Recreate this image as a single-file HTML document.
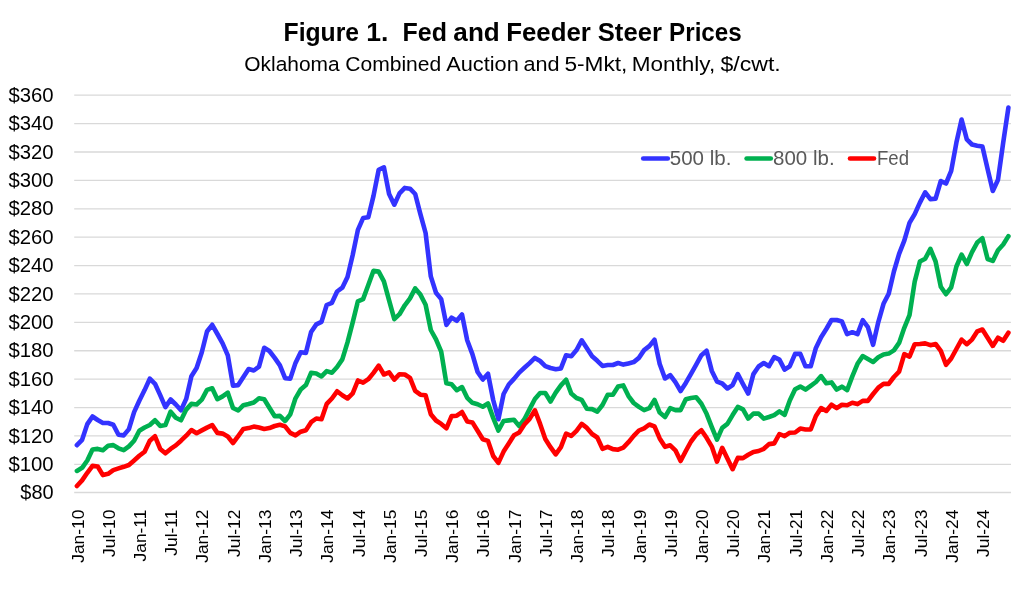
<!DOCTYPE html>
<html lang="en">
<head>
<meta charset="utf-8">
<title>Figure 1. Fed and Feeder Steer Prices</title>
<style>
  html, body { margin: 0; padding: 0; background: #ffffff; }
  body { width: 1024px; height: 596px; overflow: hidden; font-family: "Liberation Sans", sans-serif; }
  svg { display: block; }
  .grid line { stroke: #d9d9d9; stroke-width: 1.3; shape-rendering: auto; }
  .series polyline { fill: none; stroke-width: 4.6; stroke-linejoin: round; stroke-linecap: round; }
  .ylab text { font-size: 19.5px; fill: #000; text-anchor: end; }
  .xlab text { font-size: 17.4px; fill: #000; text-anchor: end; }
  .title { font-size: 25.2px; font-weight: bold; fill: #000; }
  .subtitle { font-size: 19.9px; fill: #000; }
  .legend text { font-size: 19.3px; fill: #595959; }
  .legend line { stroke-width: 4.6; stroke-linecap: round; }
</style>
</head>
<body>
<svg width="1024" height="596" viewBox="0 0 1024 596" font-family="'Liberation Sans', sans-serif">
  <rect x="0" y="0" width="1024" height="596" fill="#ffffff"/>
  <text class="title" y="40.8"><tspan x="283.54" textLength="75.57" lengthAdjust="spacingAndGlyphs">Figure</tspan> <tspan x="366.21" textLength="22.14" lengthAdjust="spacingAndGlyphs">1.</tspan> <tspan x="402.53" textLength="44.35" lengthAdjust="spacingAndGlyphs">Fed</tspan> <tspan x="453.38" textLength="46.37" lengthAdjust="spacingAndGlyphs">and</tspan> <tspan x="506.17" textLength="84.68" lengthAdjust="spacingAndGlyphs">Feeder</tspan> <tspan x="597.78" textLength="64.09" lengthAdjust="spacingAndGlyphs">Steer</tspan> <tspan x="669.08" textLength="72.68" lengthAdjust="spacingAndGlyphs">Prices</tspan></text>
  <text class="subtitle" y="70.8"><tspan x="244.27" textLength="95.33" lengthAdjust="spacingAndGlyphs">Oklahoma</tspan> <tspan x="345.26" textLength="95.95" lengthAdjust="spacingAndGlyphs">Combined</tspan> <tspan x="446.22" textLength="72.55" lengthAdjust="spacingAndGlyphs">Auction</tspan> <tspan x="523.52" textLength="36.07" lengthAdjust="spacingAndGlyphs">and</tspan> <tspan x="564.40" textLength="63.04" lengthAdjust="spacingAndGlyphs">5-Mkt,</tspan> <tspan x="631.66" textLength="83.50" lengthAdjust="spacingAndGlyphs">Monthly,</tspan> <tspan x="720.43" textLength="60.31" lengthAdjust="spacingAndGlyphs">$/cwt.</tspan></text>
  <g class="grid">
    <line x1="74.2" x2="1011" y1="492.50" y2="492.50"/><line x1="74.2" x2="1011" y1="464.31" y2="464.31"/><line x1="74.2" x2="1011" y1="435.92" y2="435.92"/><line x1="74.2" x2="1011" y1="407.53" y2="407.53"/><line x1="74.2" x2="1011" y1="379.14" y2="379.14"/><line x1="74.2" x2="1011" y1="350.75" y2="350.75"/><line x1="74.2" x2="1011" y1="322.36" y2="322.36"/><line x1="74.2" x2="1011" y1="293.97" y2="293.97"/><line x1="74.2" x2="1011" y1="265.58" y2="265.58"/><line x1="74.2" x2="1011" y1="237.19" y2="237.19"/><line x1="74.2" x2="1011" y1="208.80" y2="208.80"/><line x1="74.2" x2="1011" y1="180.41" y2="180.41"/><line x1="74.2" x2="1011" y1="152.02" y2="152.02"/><line x1="74.2" x2="1011" y1="123.63" y2="123.63"/><line x1="74.2" x2="1011" y1="95.04" y2="95.04"/>
  </g>
  <g class="ylab">
    <text x="53.6" y="499.1" textLength="33.3" lengthAdjust="spacingAndGlyphs">$80</text><text x="53.6" y="470.9" textLength="45.2" lengthAdjust="spacingAndGlyphs">$100</text><text x="53.6" y="442.5" textLength="45.2" lengthAdjust="spacingAndGlyphs">$120</text><text x="53.6" y="414.1" textLength="45.2" lengthAdjust="spacingAndGlyphs">$140</text><text x="53.6" y="385.7" textLength="45.2" lengthAdjust="spacingAndGlyphs">$160</text><text x="53.6" y="357.4" textLength="45.2" lengthAdjust="spacingAndGlyphs">$180</text><text x="53.6" y="329.0" textLength="45.2" lengthAdjust="spacingAndGlyphs">$200</text><text x="53.6" y="300.6" textLength="45.2" lengthAdjust="spacingAndGlyphs">$220</text><text x="53.6" y="272.2" textLength="45.2" lengthAdjust="spacingAndGlyphs">$240</text><text x="53.6" y="243.8" textLength="45.2" lengthAdjust="spacingAndGlyphs">$260</text><text x="53.6" y="215.4" textLength="45.2" lengthAdjust="spacingAndGlyphs">$280</text><text x="53.6" y="187.0" textLength="45.2" lengthAdjust="spacingAndGlyphs">$300</text><text x="53.6" y="158.6" textLength="45.2" lengthAdjust="spacingAndGlyphs">$320</text><text x="53.6" y="130.2" textLength="45.2" lengthAdjust="spacingAndGlyphs">$340</text><text x="53.6" y="101.6" textLength="45.2" lengthAdjust="spacingAndGlyphs">$360</text>
  </g>
  <g class="xlab">
    <text transform="translate(83.5,509.6) rotate(-90)">Jan-10</text><text transform="translate(114.7,509.6) rotate(-90)">Jul-10</text><text transform="translate(145.9,509.6) rotate(-90)">Jan-11</text><text transform="translate(177.2,509.6) rotate(-90)">Jul-11</text><text transform="translate(208.4,509.6) rotate(-90)">Jan-12</text><text transform="translate(239.6,509.6) rotate(-90)">Jul-12</text><text transform="translate(270.8,509.6) rotate(-90)">Jan-13</text><text transform="translate(302.1,509.6) rotate(-90)">Jul-13</text><text transform="translate(333.3,509.6) rotate(-90)">Jan-14</text><text transform="translate(364.5,509.6) rotate(-90)">Jul-14</text><text transform="translate(395.7,509.6) rotate(-90)">Jan-15</text><text transform="translate(427.0,509.6) rotate(-90)">Jul-15</text><text transform="translate(458.2,509.6) rotate(-90)">Jan-16</text><text transform="translate(489.4,509.6) rotate(-90)">Jul-16</text><text transform="translate(520.6,509.6) rotate(-90)">Jan-17</text><text transform="translate(551.9,509.6) rotate(-90)">Jul-17</text><text transform="translate(583.1,509.6) rotate(-90)">Jan-18</text><text transform="translate(614.3,509.6) rotate(-90)">Jul-18</text><text transform="translate(645.5,509.6) rotate(-90)">Jan-19</text><text transform="translate(676.8,509.6) rotate(-90)">Jul-19</text><text transform="translate(708.0,509.6) rotate(-90)">Jan-20</text><text transform="translate(739.2,509.6) rotate(-90)">Jul-20</text><text transform="translate(770.4,509.6) rotate(-90)">Jan-21</text><text transform="translate(801.7,509.6) rotate(-90)">Jul-21</text><text transform="translate(832.9,509.6) rotate(-90)">Jan-22</text><text transform="translate(864.1,509.6) rotate(-90)">Jul-22</text><text transform="translate(895.3,509.6) rotate(-90)">Jan-23</text><text transform="translate(926.5,509.6) rotate(-90)">Jul-23</text><text transform="translate(957.8,509.6) rotate(-90)">Jan-24</text><text transform="translate(989.0,509.6) rotate(-90)">Jul-24</text>
  </g>
  <g class="series">
    <polyline stroke="#3333ff" points="76.9,445.2 82.1,439.8 87.3,424.1 92.5,416.5 97.7,420.0 102.9,423.0 108.1,423.0 113.3,424.7 118.5,434.8 123.7,435.4 128.9,429.1 134.1,412.1 139.3,400.8 144.6,390.1 149.8,378.7 155.0,383.8 160.2,395.1 165.4,407.1 170.6,399.5 175.8,404.5 181.0,410.2 186.2,398.9 191.4,376.2 196.6,368.0 201.8,352.2 207.0,331.5 212.2,324.8 217.4,334.0 222.6,343.4 227.8,355.4 233.0,385.7 238.2,385.1 243.4,376.9 248.6,369.0 253.8,370.5 259.0,366.7 264.2,347.8 269.4,351.0 274.7,357.9 279.9,365.4 285.1,378.2 290.3,378.6 295.5,362.9 300.7,352.2 305.9,352.9 311.1,332.0 316.3,324.4 321.5,321.9 326.7,305.0 331.9,302.8 337.1,291.5 342.3,287.7 347.5,277.0 352.7,255.0 357.9,229.9 363.1,218.1 368.3,217.3 373.5,195.9 378.7,169.8 383.9,167.3 389.1,194.0 394.3,204.7 399.5,193.4 404.8,187.9 410.0,188.7 415.2,194.0 420.4,214.1 425.6,233.0 430.8,276.4 436.0,292.8 441.2,299.1 446.4,324.9 451.6,317.6 456.8,320.8 462.0,314.5 467.2,340.3 472.4,354.1 477.6,372.0 482.8,379.5 488.0,373.8 493.2,400.0 498.4,419.2 503.6,394.0 508.8,384.5 514.0,378.9 519.2,372.6 524.4,367.8 529.6,363.1 534.9,357.9 540.1,361.0 545.3,366.1 550.5,368.0 555.7,369.2 560.9,368.4 566.1,355.2 571.3,356.2 576.5,350.1 581.7,340.3 586.9,348.3 592.1,356.2 597.3,360.8 602.5,365.9 607.7,365.0 612.9,365.0 618.1,363.0 623.3,364.6 628.5,363.4 633.7,362.1 638.9,357.9 644.1,350.1 649.3,346.1 654.5,339.8 659.7,364.0 665.0,378.5 670.2,375.1 675.4,382.2 680.6,391.0 685.8,382.9 691.0,373.8 696.2,364.6 701.4,355.2 706.6,350.8 711.8,370.9 717.0,381.6 722.2,383.5 727.4,388.5 732.6,385.1 737.8,374.1 743.0,384.1 748.2,393.6 753.4,374.1 758.6,366.5 763.8,363.0 769.0,366.2 774.2,357.1 779.4,359.6 784.6,369.6 789.8,366.2 795.1,353.9 800.3,353.9 805.5,366.3 810.7,366.3 815.9,347.9 821.1,337.2 826.3,329.0 831.5,320.0 836.7,320.0 841.9,321.5 847.1,334.1 852.3,332.2 857.5,334.1 862.7,320.2 867.9,327.1 873.1,344.8 878.3,322.1 883.5,303.8 888.7,293.8 893.9,271.5 899.1,253.9 904.3,240.7 909.5,222.9 914.7,214.1 919.9,202.6 925.2,192.3 930.4,199.2 935.6,198.6 940.8,181.0 946.0,183.5 951.2,170.9 956.4,142.6 961.6,119.5 966.8,139.4 972.0,144.5 977.2,145.7 982.4,146.6 987.6,169.0 992.8,191.0 998.0,179.7 1003.2,142.6 1008.4,107.6"/>
    <polyline stroke="#00b050" points="76.9,470.9 82.1,467.8 87.3,460.5 92.5,449.5 97.7,448.9 102.9,450.2 108.1,445.8 113.3,445.1 118.5,448.3 123.7,450.2 128.9,446.4 134.1,440.7 139.3,430.7 144.6,427.5 149.8,425.0 155.0,420.3 160.2,425.9 165.4,425.1 170.6,411.7 175.8,417.8 181.0,420.3 186.2,409.6 191.4,403.9 196.6,404.5 201.8,399.6 207.0,389.9 212.2,388.3 217.4,399.2 222.6,396.4 227.8,392.7 233.0,408.0 238.2,410.5 243.4,405.2 248.6,404.0 253.8,402.5 259.0,398.3 264.2,399.2 269.4,407.8 274.7,416.3 279.9,415.9 285.1,421.0 290.3,414.3 295.5,398.3 300.7,389.5 305.9,385.1 311.1,372.8 316.3,373.5 321.5,376.4 326.7,371.1 331.9,372.7 337.1,367.0 342.3,359.4 347.5,342.4 352.7,322.3 357.9,301.3 363.1,299.1 368.3,285.0 373.5,270.7 378.7,271.6 383.9,281.4 389.1,300.3 394.3,319.2 399.5,314.2 404.8,305.3 410.0,298.4 415.2,288.4 420.4,294.6 425.6,304.7 430.8,330.0 436.0,339.3 441.2,351.7 446.4,383.3 451.6,384.2 456.8,390.2 462.0,387.1 467.2,397.8 472.4,402.8 477.6,404.3 482.8,406.8 488.0,403.4 493.2,417.9 498.4,430.5 503.6,421.0 508.8,420.4 514.0,419.8 519.2,426.1 524.4,419.2 529.6,409.1 534.9,399.0 540.1,393.0 545.3,393.0 550.5,401.5 555.7,392.7 560.9,385.4 566.1,379.7 571.3,393.6 576.5,398.0 581.7,399.9 586.9,408.8 592.1,409.1 597.3,411.6 602.5,405.0 607.7,394.8 612.9,394.8 618.1,386.6 623.3,385.4 628.5,396.1 633.7,403.0 638.9,406.9 644.1,410.1 649.3,408.2 654.5,399.9 659.7,412.6 665.0,417.0 670.2,408.2 675.4,410.1 680.6,410.1 685.8,399.2 691.0,398.0 696.2,397.3 701.4,403.8 706.6,413.8 711.8,427.1 717.0,439.6 722.2,427.9 727.4,423.9 732.6,415.1 737.8,406.9 743.0,409.4 748.2,418.6 753.4,413.6 758.6,413.6 763.8,418.6 769.0,417.0 774.2,415.1 779.4,411.3 784.6,414.9 789.8,400.5 795.1,389.2 800.3,386.6 805.5,389.6 810.7,385.8 815.9,382.0 821.1,376.1 826.3,383.3 831.5,382.4 836.7,389.6 841.9,386.7 847.1,390.2 852.3,376.4 857.5,363.8 862.7,356.1 867.9,359.0 873.1,362.0 878.3,357.3 883.5,354.4 888.7,353.6 893.9,350.4 899.1,342.9 904.3,327.8 909.5,315.2 914.7,281.6 919.9,261.5 925.2,258.7 930.4,248.9 935.6,261.5 940.8,286.7 946.0,294.2 951.2,287.3 956.4,266.5 961.6,254.6 966.8,264.0 972.0,252.1 977.2,242.6 982.4,238.2 987.6,259.0 992.8,260.9 998.0,250.2 1003.2,244.5 1008.4,236.1"/>
    <polyline stroke="#ff0000" points="76.9,486.0 82.1,480.4 87.3,472.8 92.5,465.9 97.7,466.5 102.9,475.1 108.1,473.8 113.3,470.1 118.5,468.4 123.7,466.8 128.9,465.0 134.1,460.5 139.3,455.8 144.6,451.7 149.8,440.7 155.0,436.3 160.2,448.9 165.4,453.3 170.6,448.9 175.8,445.4 181.0,440.7 186.2,435.7 191.4,430.0 196.6,433.2 201.8,430.4 207.0,427.6 212.2,425.1 217.4,432.9 222.6,433.6 227.8,436.5 233.0,443.0 238.2,436.1 243.4,428.9 248.6,428.1 253.8,426.6 259.0,427.6 264.2,428.9 269.4,428.1 274.7,426.0 279.9,424.8 285.1,426.4 290.3,432.9 295.5,435.4 300.7,431.7 305.9,430.2 311.1,422.2 316.3,418.5 321.5,419.2 326.7,403.9 331.9,398.5 337.1,391.3 342.3,395.3 347.5,398.5 352.7,393.4 357.9,380.5 363.1,382.7 368.3,379.2 373.5,372.9 378.7,365.7 383.9,374.5 389.1,372.4 394.3,379.6 399.5,374.2 404.8,374.5 410.0,377.9 415.2,390.9 420.4,394.7 425.6,395.3 430.8,414.2 436.0,420.5 441.2,423.9 446.4,428.3 451.6,416.1 456.8,415.7 462.0,412.0 467.2,421.4 472.4,422.4 477.6,430.8 482.8,439.3 488.0,440.9 493.2,456.0 498.4,462.9 503.6,451.6 508.8,443.4 514.0,435.2 519.2,432.5 524.4,424.5 529.6,418.9 534.9,410.3 540.1,423.9 545.3,439.0 550.5,447.2 555.7,454.4 560.9,447.2 566.1,433.7 571.3,435.9 576.5,430.8 581.7,423.9 586.9,427.9 592.1,434.0 597.3,437.5 602.5,448.8 607.7,446.8 612.9,449.1 618.1,449.7 623.3,447.6 628.5,442.2 633.7,435.9 638.9,430.5 644.1,428.3 649.3,424.5 654.5,426.4 659.7,438.4 665.0,446.8 670.2,445.3 675.4,450.3 680.6,461.0 685.8,451.0 691.0,441.5 696.2,434.6 701.4,430.2 706.6,437.8 711.8,446.6 717.0,461.7 722.2,447.8 727.4,458.5 732.6,469.2 737.8,457.9 743.0,458.1 748.2,454.8 753.4,451.9 758.6,451.0 763.8,448.8 769.0,444.1 774.2,443.4 779.4,434.0 784.6,436.2 789.8,432.7 795.1,432.5 800.3,428.6 805.5,429.5 810.7,429.5 815.9,416.0 821.1,408.1 826.3,411.0 831.5,404.7 836.7,408.1 841.9,404.7 847.1,405.3 852.3,402.8 857.5,404.1 862.7,400.9 867.9,400.9 873.1,394.0 878.3,387.7 883.5,383.9 888.7,383.9 893.9,377.0 899.1,371.7 904.3,354.1 909.5,356.6 914.7,344.2 919.9,344.0 925.2,343.4 930.4,345.2 935.6,344.0 940.8,350.9 946.0,364.8 951.2,358.5 956.4,349.0 961.6,339.6 966.8,344.2 972.0,339.6 977.2,331.4 982.4,329.5 987.6,337.7 992.8,345.9 998.0,337.7 1003.2,340.8 1008.4,332.7"/>
  </g>
  <g class="legend">
    <line x1="643.2" x2="667.8" y1="158.5" y2="158.5" stroke="#3333ff"/>
    <text x="669.8" y="164.7" textLength="61.6" lengthAdjust="spacingAndGlyphs">500 lb.</text>
    <line x1="746.6" x2="770.8" y1="158.5" y2="158.5" stroke="#00b050"/>
    <text x="773" y="164.7" textLength="61.6" lengthAdjust="spacingAndGlyphs">800 lb.</text>
    <line x1="850" x2="874" y1="158.5" y2="158.5" stroke="#ff0000"/>
    <text x="877" y="164.7" textLength="32" lengthAdjust="spacingAndGlyphs">Fed</text>
  </g>
</svg>
</body>
</html>
